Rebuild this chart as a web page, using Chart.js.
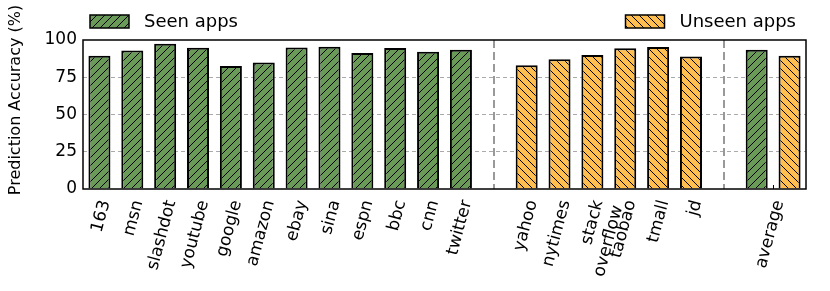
<!DOCTYPE html>
<html>
<head>
<meta charset="utf-8">
<script src="https://cdn.jsdelivr.net/npm/chart.js@4.4.1/dist/chart.umd.min.js"></script>
<style>
  html, body { margin: 0; padding: 0; background: #fff; }
  #wrap { width: 830px; height: 291px; position: relative; }
</style>
</head>
<body>
<div id="wrap"><canvas id="chart"></canvas></div>
<script>
const seenApps = ['163', 'msn', 'slashdot', 'youtube', 'google', 'amazon', 'ebay', 'sina', 'espn', 'bbc', 'cnn', 'twitter'];
const seenAcc = [89.5, 93.0, 97.5, 94.8, 82.6, 84.9, 95.0, 95.5, 91.2, 94.6, 92.1, 93.5];
const unseenApps = ['yahoo', 'nytimes', ['stack', 'overflow'], 'taobao', 'tmall', 'jd'];
const unseenAcc = [83.1, 87.1, 89.9, 94.4, 95.3, 89.0];
const avgLabel = 'average';
const avgAcc = [93.5, 89.4]; // seen, unseen
const yTicks = [0, 25, 50, 75, 100];
const legendNames = ['Seen apps', 'Unseen apps'];
const yTitle = 'Prediction Accuracy (%)';

const FONT = '"DejaVu Sans", sans-serif';
const GREEN = '#6a9a58';
const ORANGE = '#ffbe50';

// slot layout: seen apps, gap, unseen apps, gap, two average bars
const sep1 = seenApps.length;
const sep2 = sep1 + 1 + unseenApps.length;
const seenData = seenAcc.map((v, i) => ({ x: i, y: v }));
seenData.push({ x: sep2 + 1, y: avgAcc[0] });
const unseenData = unseenAcc.map((v, i) => ({ x: sep1 + 1 + i, y: v }));
unseenData.push({ x: sep2 + 2, y: avgAcc[1] });

const tickPos = seenApps.map((_, i) => i)
  .concat(unseenApps.map((_, i) => sep1 + 1 + i))
  .concat([sep2 + 1.5]);
const tickLabels = seenApps.concat(unseenApps).concat([avgLabel]);

function hatch(bg, forward) {
  const c = document.createElement('canvas');
  c.width = 8; c.height = 8;
  const g = c.getContext('2d');
  g.fillStyle = bg;
  g.fillRect(0, 0, 8, 8);
  g.strokeStyle = '#000';
  g.lineWidth = 1;
  g.beginPath();
  if (forward) {
    g.moveTo(-1, 9); g.lineTo(9, -1);
    g.moveTo(-1, 1); g.lineTo(1, -1);
    g.moveTo(7, 9); g.lineTo(9, 7);
  } else {
    g.moveTo(-1, -1); g.lineTo(9, 9);
    g.moveTo(7, -1); g.lineTo(9, 1);
    g.moveTo(-1, 7); g.lineTo(1, 9);
  }
  g.stroke();
  return g.createPattern(c, 'repeat');
}
const greenHatch = hatch(GREEN, true);
const orangeHatch = hatch(ORANGE, false);

const decor = {
  id: 'decor',
  afterDatasetsDraw(chart) {
    const { ctx, chartArea: a, scales } = chart;
    ctx.save();
    // group separators
    ctx.strokeStyle = '#999';
    ctx.lineWidth = 2;
    ctx.setLineDash([8, 4]);
    [sep1, sep2].forEach(s => {
      const x = Math.round(scales.x.getPixelForValue(s));
      ctx.beginPath();
      ctx.moveTo(x, a.top);
      ctx.lineTo(x, a.bottom);
      ctx.stroke();
    });
    ctx.setLineDash([]);
    // small inward tick under the average pair
    ctx.strokeStyle = '#000';
    ctx.lineWidth = 1;
    const tx = Math.round(scales.x.getPixelForValue(sep2 + 1.5)) + 0.5;
    ctx.beginPath();
    ctx.moveTo(tx, a.bottom);
    ctx.lineTo(tx, a.bottom - 4);
    ctx.stroke();
    // frame
    ctx.lineWidth = 1.5;
    ctx.strokeRect(a.left, a.top, a.right - a.left, a.bottom - a.top);
    // legend
    ctx.font = '18px ' + FONT;
    ctx.textBaseline = 'middle';
    const w1 = ctx.measureText(legendNames[1]).width;
    const items = [
      { fill: greenHatch, text: legendNames[0], x: a.left + 7 },
      { fill: orangeHatch, text: legendNames[1], x: a.right - 9 - w1 - 16 - 39 }
    ];
    const ly = 21;
    items.forEach(it => {
      ctx.fillStyle = it.fill;
      ctx.fillRect(it.x, ly - 6, 39, 13);
      ctx.strokeStyle = '#000';
      ctx.lineWidth = 1.5;
      ctx.strokeRect(it.x, ly - 6, 39, 13);
      ctx.fillStyle = '#000';
      ctx.fillText(it.text, it.x + 54, ly + 1);
    });
    // y title
    ctx.font = '16px ' + FONT;
    ctx.textAlign = 'center';
    ctx.translate(16, 100);
    ctx.rotate(-Math.PI / 2);
    ctx.fillText(yTitle, 0, 0);
    ctx.restore();
  }
};

new Chart(document.getElementById('chart'), {
  type: 'bar',
  data: {
    datasets: [
      {
        label: legendNames[0],
        data: seenData,
        backgroundColor: greenHatch,
        borderColor: '#000',
        borderWidth: 2,
        grouped: false,
        barPercentage: 0.67,
        categoryPercentage: 1
      },
      {
        label: legendNames[1],
        data: unseenData,
        backgroundColor: orangeHatch,
        borderColor: '#000',
        borderWidth: 2,
        grouped: false,
        barPercentage: 0.67,
        categoryPercentage: 1
      }
    ]
  },
  options: {
    responsive: true,
    maintainAspectRatio: false,
    animation: false,
    layout: { padding: { left: 0, right: 24, top: 40, bottom: 0 } },
    plugins: { legend: { display: false }, tooltip: { enabled: false } },
    scales: {
      x: {
        type: 'linear',
        offset: false,
        min: -0.5,
        max: sep2 + 2.5,
        grid: { display: false, offset: false },
        border: { display: false },
        afterBuildTicks: s => { s.ticks = tickPos.map(v => ({ value: v })); },
        afterFit: s => { s.height = 102; },
        ticks: {
          autoSkip: false,
          minRotation: 75,
          maxRotation: 75,
          padding: 1,
          labelOffset: 6,
          color: '#000',
          font: { family: FONT, size: 17 },
          callback: (v, i) => tickLabels[i]
        }
      },
      y: {
        min: 0,
        max: 100,
        afterBuildTicks: s => { s.ticks = yTicks.map(v => ({ value: v })); },
        afterFit: s => { s.width = 83; },
        border: { display: false, dash: [4, 3] },
        grid: {
          color: c => (c.tick.value > 0 && c.tick.value < 100) ? '#aaa' : 'rgba(0,0,0,0)',
          lineWidth: 1,
          drawTicks: false
        },
        ticks: {
          padding: 6,
          color: '#000',
          font: { family: FONT, size: 17 }
        }
      }
    }
  },
  plugins: [decor]
});
</script>
</body>
</html>
